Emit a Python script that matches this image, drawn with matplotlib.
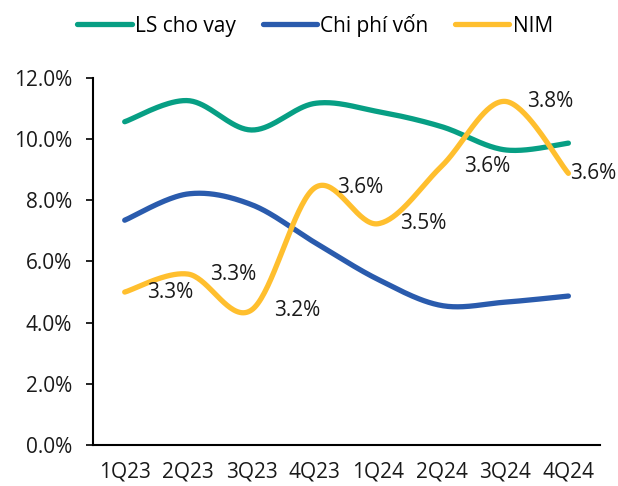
import numpy as np
import matplotlib
matplotlib.use("Agg")
import matplotlib.pyplot as plt

# Quarterly data
quarters = ["1Q23", "2Q23", "3Q23", "4Q23", "1Q24", "2Q24", "3Q24", "4Q24"]
lending_rate = [10.57, 11.26, 10.30, 11.17, 10.90, 10.41, 9.65, 9.87]   # LS cho vay (%)
cost_of_funds = [7.35, 8.21, 7.86, 6.62, 5.41, 4.56, 4.67, 4.87]        # Chi phi von (%)
nim = [3.27, 3.32, 3.22, 3.56, 3.46, 3.62, 3.80, 3.60]                  # NIM (%), secondary axis

GREEN = "#079F84"
BLUE = "#2A5BAD"
YELLOW = "#FFBF2E"
TXT = "#1a1a1a"
FS = 15

plt.rcParams['font.family'] = ['Open Sans', 'DejaVu Sans']


# Excel-like smoothed line (bezier through the data points)
def smooth(xs, ys, n=40):
    xs = np.asarray(xs, float)
    ys = np.asarray(ys, float)
    px = np.concatenate([[xs[0]], xs, [xs[-1]]])
    py = np.concatenate([[ys[0]], ys, [ys[-1]]])
    out_x, out_y = [], []
    t = np.linspace(0, 1, n)
    for i in range(1, len(px) - 2):
        p0, p1, p2, p3 = py[i - 1], py[i], py[i + 1], py[i + 2]
        q0, q1, q2, q3 = px[i - 1], px[i], px[i + 1], px[i + 2]
        c1y = p1 + (p2 - p0) / 6
        c2y = p2 - (p3 - p1) / 6
        c1x = q1 + (q2 - q0) / 6
        c2x = q2 - (q3 - q1) / 6
        bx = (1 - t) ** 3 * q1 + 3 * (1 - t) ** 2 * t * c1x + 3 * (1 - t) * t ** 2 * c2x + t ** 3 * q2
        by = (1 - t) ** 3 * p1 + 3 * (1 - t) ** 2 * t * c1y + 3 * (1 - t) * t ** 2 * c2y + t ** 3 * p2
        out_x.extend(bx)
        out_y.extend(by)
    return np.array(out_x), np.array(out_y)


x = np.arange(len(quarters))

fig = plt.figure(figsize=(6.18, 4.86), dpi=100)
ax = fig.add_axes([0.1505, 0.0844, 0.8205, 0.7551])
ax2 = ax.twinx()

lw = 3.8
sx, sy = smooth(x, lending_rate)
l1, = ax.plot(sx, sy, color=GREEN, lw=lw, solid_capstyle='round', label="LS cho vay")
sx, sy = smooth(x, cost_of_funds)
l2, = ax.plot(sx, sy, color=BLUE, lw=lw, solid_capstyle='round', label="Chi phí vốn")
sx, sy = smooth(x, nim)
l3, = ax2.plot(sx, sy, color=YELLOW, lw=lw, solid_capstyle='round', label="NIM")

for i, (xi, v) in enumerate(zip(x, nim)):
    off = 1 if i == len(nim) - 1 else 16   # last label squeezed inside the chart
    ax2.annotate(f"{v:.1f}%", (xi, v), xytext=(off, 0), textcoords='offset points',
                 ha='left', va='center', fontsize=FS, color=TXT)

ax.set_xlim(-0.5, len(quarters) - 0.5)
ax.set_ylim(0, 12)
ax2.set_ylim(2.845, 3.865)
yt = np.arange(0, 12.1, 2)
ax.set_yticks(yt)
ax.set_yticklabels([f"{v:.1f}%" for v in yt], fontsize=FS, color=TXT)
ax.set_xticks(x)
ax.set_xticklabels(quarters, fontsize=FS, color=TXT)
ax.tick_params(axis='x', length=0, pad=12)
ax.tick_params(axis='y', length=5, width=1.2, pad=10)

for side in ['top', 'right']:
    ax.spines[side].set_visible(False)
ax.spines['left'].set_linewidth(1.5)
ax.spines['bottom'].set_linewidth(1.5)
ax2.axis('off')

fig.legend(handles=[l1, l2, l3], loc='center left', bbox_to_anchor=(0.105, 0.948),
           ncol=3, frameon=False, fontsize=FS, handlelength=2.6, handletextpad=0.15,
           columnspacing=1.3, borderpad=0.1)

fig.savefig("out.png", dpi=100)
